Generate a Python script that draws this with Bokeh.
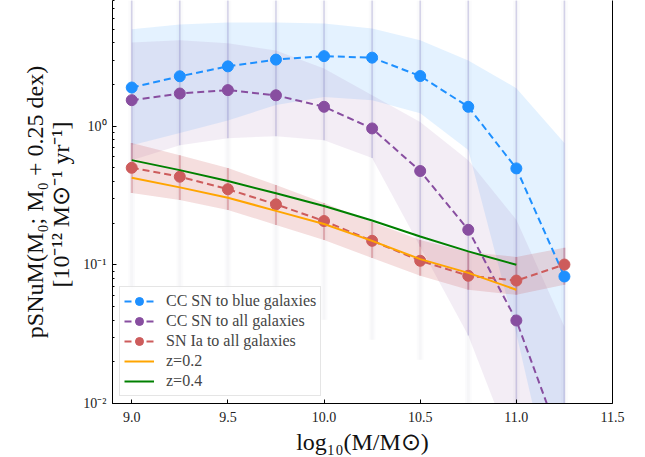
import numpy as np
from bokeh.plotting import figure
from bokeh.models import (Range1d, FixedTicker, NumeralTickFormatter, CustomJSTickFormatter,
                          LogAxis, Legend, LegendItem)
from bokeh.embed import file_html
from bokeh.resources import INLINE

# ---------------- data ----------------
mass = [9.0, 9.25, 9.5, 9.75, 10.0, 10.25, 10.5, 10.75, 11.0, 11.25]

cc_blue = [1.90, 2.29, 2.70, 3.02, 3.20, 3.12, 2.30, 1.38, 0.496, 0.0824]
cc_blue_hi = [4.99, 5.42, 5.60, 5.60, 5.51, 5.07, 4.16, 2.98, 1.88, 0.755]
cc_blue_lo = [0.730, 0.891, 1.10, 1.42, 1.62, 1.54, 1.24, 0.672, 0.0319, 0.001]

cc_all = [1.54, 1.72, 1.82, 1.67, 1.38, 0.963, 0.475, 0.179, 0.0397, 0.0045]
cc_all_hi = [4.02, 4.16, 3.96, 3.52, 2.61, 1.67, 1.07, 0.569, 0.211, 0.0358]
cc_all_lo = [0.569, 0.730, 0.820, 0.847, 0.793, 0.589, 0.135, 0.0309, 0.00395, 0.0005]

ia_all = [0.501, 0.432, 0.351, 0.273, 0.207, 0.149, 0.107, 0.0834, 0.0770, 0.1005]
ia_all_hi = [0.755, 0.618, 0.499, 0.376, 0.279, 0.204, 0.151, 0.124, 0.114, 0.133]
ia_all_lo = [0.330, 0.294, 0.249, 0.194, 0.151, 0.112, 0.0834, 0.0661, 0.0608, 0.0718]

# scatter of individual realisations (extent of the faint vertical smear)
smear_lo = [0.066, 0.066, 0.0607, 0.0475, 0.0401, 0.0288, 0.0207, 0.005, 0.005, 0.005]
smear_top = [10.0] * 10

mass_z = [9.0, 9.25, 9.5, 9.75, 10.0, 10.25, 10.5, 10.75, 11.0]
z02 = [0.425, 0.362, 0.305, 0.245, 0.197, 0.149, 0.110, 0.0875, 0.0661]
z04 = [0.569, 0.482, 0.402, 0.328, 0.266, 0.209, 0.160, 0.125, 0.100]

x_ticks = [9.0, 9.5, 10.0, 10.5, 11.0, 11.5]

BLUE = "#1E90FF"
PURPLE = "#884EA0"
RED = "#CD5C5C"
ORANGE = "#FFA500"
GREEN = "#008000"
FONT = "Liberation Serif"

p = figure(width=645, height=457, y_axis_type="log",
           x_range=Range1d(8.9, 11.5), y_range=Range1d(0.01, 8.06),
           output_backend="svg", toolbar_location=None,
           min_border_left=112, min_border_right=33,
           min_border_top=0, min_border_bottom=53)
p.outline_line_color = None
p.xgrid.visible = False
p.ygrid.visible = False
p.background_fill_color = "white"

# bands
p.varea(x=mass, y1=cc_blue_lo, y2=cc_blue_hi, fill_color=BLUE, fill_alpha=0.12)
p.varea(x=mass, y1=cc_all_lo, y2=cc_all_hi, fill_color=PURPLE, fill_alpha=0.10)
p.varea(x=mass, y1=ia_all_lo, y2=ia_all_hi, fill_color=RED, fill_alpha=0.20)

# faint smear of realisations
p.vbar(x=mass, top=smear_top, bottom=smear_lo, width=0.035,
       fill_color="#8a8a9a", fill_alpha=0.03, line_color=None)
p.vbar(x=mass, top=smear_top, bottom=smear_lo, width=0.015,
       fill_color="#8a8a9a", fill_alpha=0.04, line_color=None)
p.segment(x0=mass, y0=smear_top, x1=mass, y1=cc_all_lo,
          line_color="#4b40a8", line_alpha=0.2, line_width=1.5)
p.segment(x0=mass, y0=ia_all_hi, x1=mass, y1=ia_all_lo,
          line_color="#b83a48", line_alpha=0.3, line_width=2)

# main curves
dash = "7 4"
l1 = p.line(mass, cc_blue, line_color=BLUE, line_width=2, line_dash=dash)
s1 = p.scatter(mass, cc_blue, size=11, fill_color=BLUE, line_color=BLUE)
l2 = p.line(mass, cc_all, line_color=PURPLE, line_width=2, line_dash=dash)
s2 = p.scatter(mass, cc_all, size=11, fill_color=PURPLE, line_color=PURPLE)
l3 = p.line(mass, ia_all, line_color=RED, line_width=2, line_dash=dash)
s3 = p.scatter(mass, ia_all, size=11, fill_color=RED, line_color=RED)
l4 = p.line(mass_z, z02, line_color=ORANGE, line_width=2)
l5 = p.line(mass_z, z04, line_color=GREEN, line_width=2)

legend = Legend(items=[
    LegendItem(label="CC SN to blue galaxies", renderers=[l1, s1]),
    LegendItem(label="CC SN to all galaxies", renderers=[l2, s2]),
    LegendItem(label="SN Ia to all galaxies", renderers=[l3, s3]),
    LegendItem(label="z=0.2", renderers=[l4]),
    LegendItem(label="z=0.4", renderers=[l5]),
], location="bottom_left")
legend.margin = 7
legend.padding = 4
legend.spacing = 0
legend.label_height = 20
legend.glyph_height = 20
legend.glyph_width = 30
legend.label_standoff = 12
legend.label_text_font = FONT
legend.label_text_font_size = "16px"
legend.border_line_color = "#cccccc"
legend.border_line_width = 1
legend.background_fill_alpha = 0.8
p.add_layout(legend, "center")

# axes
xa = p.xaxis[0]
xa.ticker = FixedTicker(ticks=x_ticks)
xa.formatter = NumeralTickFormatter(format="0.0")
xa.axis_label = "log\u2081\u2080(M/M\u2299)"
ya = p.yaxis[0]
ya.formatter = CustomJSTickFormatter(code="""
const e = Math.round(Math.log10(tick));
const sup = {"-":"\u207b","0":"\u2070","1":"\u00b9","2":"\u00b2","3":"\u00b3","4":"\u2074","5":"\u2075","6":"\u2076","7":"\u2077","8":"\u2078","9":"\u2079"};
return "10" + String(e).split("").map(c => sup[c]).join("");
""")
ya.axis_label = "pSNuM(M\u2080; M\u2080 + 0.25 dex)\n[10\u207b\u00b9\u00b2 M\u2299\u207b\u00b9 yr\u207b\u00b9]"

for ax in (xa, ya):
    ax.axis_line_color = "black"
    ax.axis_line_width = 1
    ax.major_tick_in = 4
    ax.major_tick_out = 0
    ax.minor_tick_in = 2
    ax.minor_tick_out = 0
    ax.major_tick_line_color = "black"
    ax.minor_tick_line_color = "black"
    ax.major_label_text_font = FONT
    ax.major_label_text_font_size = "14px"
    ax.major_label_text_color = "#222222"
    ax.axis_label_text_font = FONT
    ax.axis_label_text_font_size = "24px"
    ax.axis_label_text_font_style = "normal"
    ax.axis_label_text_color = "#111111"
xa.major_label_standoff = 8
xa.axis_label_standoff = 4
ya.major_label_standoff = 6
ya.axis_label_standoff = 6
ya.axis_label_text_line_height = 1.0

right = LogAxis(ticker=FixedTicker(ticks=[]), axis_line_color="black",
                major_tick_in=0, major_tick_out=0, minor_tick_in=0, minor_tick_out=0,
                major_label_text_font_size="0px")
p.add_layout(right, "right")

open("out.html", "w").write(file_html(p, INLINE))
